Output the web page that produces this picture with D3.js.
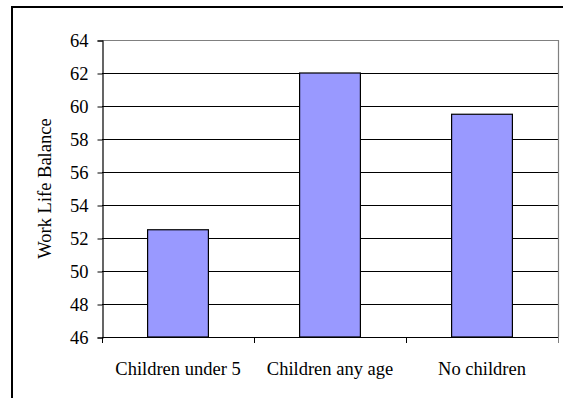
<!DOCTYPE html>
<html>
<head>
<meta charset="utf-8">
<script src="https://cdn.jsdelivr.net/npm/d3@7"></script>
<style>
  html, body { margin: 0; padding: 0; background: #fff; }
  svg { display: block; }
</style>
</head>
<body>
<svg id="chart" width="563" height="398"></svg>
<script>
// Work-life balance score by parental status
const categories = ["Children under 5", "Children any age", "No children"];
const values = [52.5, 62, 59.5];
const yTicks = [46, 48, 50, 52, 54, 56, 58, 60, 62, 64];
const yTitle = "Work Life Balance";

const W = 563, H = 398;
const plot = { left: 102, right: 558, top: 40, bottom: 337 };
const fontFamily = "Liberation Serif, Times New Roman, serif";
const fontSize = 18.5;

const svg = d3.select("#chart")
  .attr("font-family", fontFamily)
  .attr("font-size", fontSize);

// outer frame (right and bottom edges fall outside the view)
svg.append("rect")
  .attr("x", 12).attr("y", 7)
  .attr("width", W + 20).attr("height", H + 20)
  .attr("fill", "#fff")
  .attr("stroke", "#000").attr("stroke-width", 2);

const x = d3.scaleBand()
  .domain(categories)
  .range([plot.left, plot.right])
  .paddingInner(0.6)
  .paddingOuter(0.3);

const y = d3.scaleLinear()
  .domain([46, 64])
  .range([plot.bottom, plot.top]);

// horizontal gridlines
svg.append("g")
  .selectAll("line")
  .data(yTicks.filter(t => t > 46 && t < 64))
  .join("line")
  .attr("x1", plot.left).attr("x2", plot.right)
  .attr("y1", d => y(d) + 0.5).attr("y2", d => y(d) + 0.5)
  .attr("stroke", "#000").attr("stroke-width", 1);

// top and right plot border (grey)
svg.append("path")
  .attr("d", `M${plot.left},${y(64) + 0.5}H${plot.right + 0.5}V${plot.bottom}`)
  .attr("fill", "none").attr("stroke", "#808080").attr("stroke-width", 1.2);

// bars
svg.append("g")
  .selectAll("rect")
  .data(values)
  .join("rect")
  .attr("x", (d, i) => x(categories[i]))
  .attr("width", x.bandwidth())
  .attr("y", d => y(d))
  .attr("height", d => y(46) - y(d))
  .attr("fill", "#9999ff")
  .attr("stroke", "#000").attr("stroke-width", 1.2);

// y axis
const yAxis = d3.axisLeft(y)
  .tickValues(yTicks)
  .tickSize(5)
  .tickPadding(9)
  .tickFormat(d3.format("d"));
const gy = svg.append("g")
  .attr("transform", `translate(${plot.left + 0.5},0.5)`)
  .call(yAxis)
  .attr("font-family", fontFamily)
  .attr("font-size", fontSize);
gy.select(".domain").attr("stroke", "#000").attr("stroke-width", 1.2);
gy.selectAll(".tick line").attr("stroke", "#000");
gy.selectAll(".tick text").attr("fill", "#000");

// x axis: category boundaries as ticks
const bounds = d3.range(categories.length + 1)
  .map(i => plot.left + i * (plot.right - plot.left) / categories.length);
svg.append("line")
  .attr("x1", plot.left).attr("x2", plot.right + 0.5)
  .attr("y1", plot.bottom + 0.5).attr("y2", plot.bottom + 0.5)
  .attr("stroke", "#000").attr("stroke-width", 1.2);
svg.append("g")
  .selectAll("line")
  .data(bounds)
  .join("line")
  .attr("x1", d => Math.round(d) + 0.5).attr("x2", d => Math.round(d) + 0.5)
  .attr("y1", plot.bottom).attr("y2", plot.bottom + 6)
  .attr("stroke", (d, i) => i === bounds.length - 1 ? "#808080" : "#000");

svg.append("g")
  .selectAll("text")
  .data(categories)
  .join("text")
  .attr("x", d => x(d) + x.bandwidth() / 2)
  .attr("y", 375)
  .attr("text-anchor", "middle")
  .attr("fill", "#000")
  .text(d => d);

// y axis title
svg.append("text")
  .attr("transform", `translate(51,${(plot.top + plot.bottom) / 2}) rotate(-90)`)
  .attr("text-anchor", "middle")
  .attr("fill", "#000")
  .text(yTitle);
</script>
</body>
</html>
